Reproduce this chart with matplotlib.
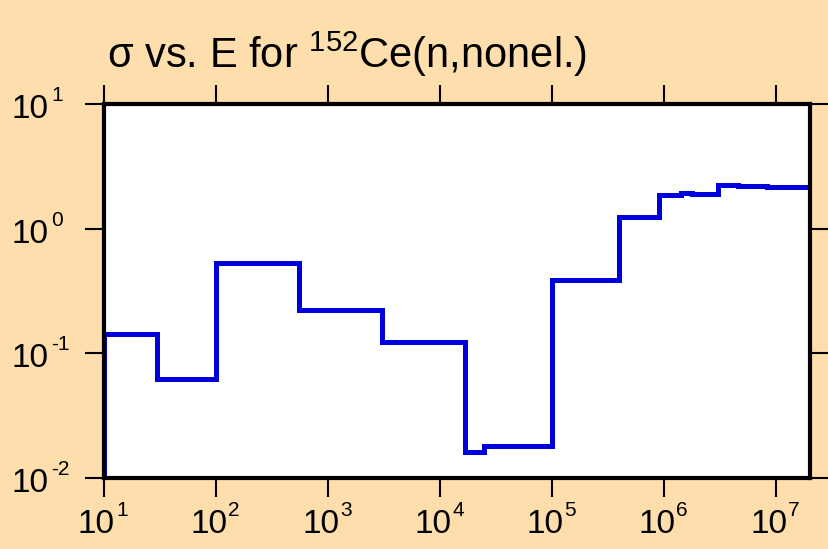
import math
import matplotlib
matplotlib.use("Agg")
import matplotlib.pyplot as plt
from matplotlib.ticker import FixedLocator, NullFormatter, NullLocator

plt.rcParams['font.family'] = ['Liberation Sans', 'DejaVu Sans']
plt.rcParams['mathtext.fontset'] = 'custom'
plt.rcParams['mathtext.rm'] = 'Liberation Sans'
plt.rcParams['mathtext.it'] = 'Liberation Sans'
plt.rcParams['mathtext.bf'] = 'Liberation Sans'

# group boundaries (eV) and cross section per group (b)
edges = [10, 30, 100, 545, 3000, 16700, 24700, 1.0e5, 3.93e5, 8.9e5,
         1.4e6, 1.76e6, 2.33e6, 3.0e6, 4.6e6, 8.2e6, 2.0e7]
sigma = [0.144, 0.0628, 0.527, 0.224, 0.123, 0.0162, 0.0181, 0.384, 1.23,
         1.87, 1.94, 1.90, 1.91, 2.26, 2.20, 2.17]

xticks = [1e1, 1e2, 1e3, 1e4, 1e5, 1e6, 1e7]
yticks = [1e-2, 1e-1, 1e0, 1e1]

bg = '#FDDEAC'
fig = plt.figure(figsize=(8.29, 5.49), dpi=100, facecolor=bg)
ax = fig.add_axes([104/829, 1-478/549, 706/829, 374/549])
ax.set_facecolor('white')

ax.stairs(sigma, edges, baseline=1e-6, color='#0000dd', linewidth=3.6)

ax.set_xscale('log')
ax.set_yscale('log')
ax.set_xlim(10, 2.0e7)
ax.set_ylim(1e-2, 1e1)

ax.xaxis.set_major_locator(FixedLocator(xticks))
ax.yaxis.set_major_locator(FixedLocator(yticks))
ax.xaxis.set_minor_locator(NullLocator())
ax.yaxis.set_minor_locator(NullLocator())
ax.xaxis.set_major_formatter(NullFormatter())
ax.yaxis.set_major_formatter(NullFormatter())

for s in ax.spines.values():
    s.set_linewidth(3)
ax.tick_params(which='major', direction='out', length=14, width=1.5,
               top=True, right=True)

# power-of-ten labels: "10" plus a raised exponent (plain hyphen for minus)
big, small = 24, 15
for t in xticks:
    e = str(int(round(math.log10(t))))
    ax.annotate('10', xy=(t, 0), xycoords=('data', 'axes fraction'),
                xytext=(11, -55), textcoords='offset pixels',
                ha='right', va='baseline', fontsize=big, annotation_clip=False)
    ax.annotate(e, xy=(t, 0), xycoords=('data', 'axes fraction'),
                xytext=(12, -38), textcoords='offset pixels',
                ha='left', va='baseline', fontsize=small, annotation_clip=False)
for t in yticks:
    e = str(int(round(math.log10(t))))
    ax.annotate('10', xy=(12, t), xycoords=('figure pixels', 'data'),
                xytext=(0, -14), textcoords='offset pixels',
                ha='left', va='baseline', fontsize=big, annotation_clip=False)
    ax.annotate(e, xy=(51, t), xycoords=('figure pixels', 'data'),
                xytext=(0, 3), textcoords='offset pixels',
                ha='left', va='baseline', fontsize=small, annotation_clip=False)

fig.text(107/829, 1-68/549, r'$\sigma$ vs. E for $^{152}$Ce(n,nonel.)',
         fontsize=30, va='baseline', ha='left')

fig.savefig('out.png', dpi=100, facecolor=bg)
